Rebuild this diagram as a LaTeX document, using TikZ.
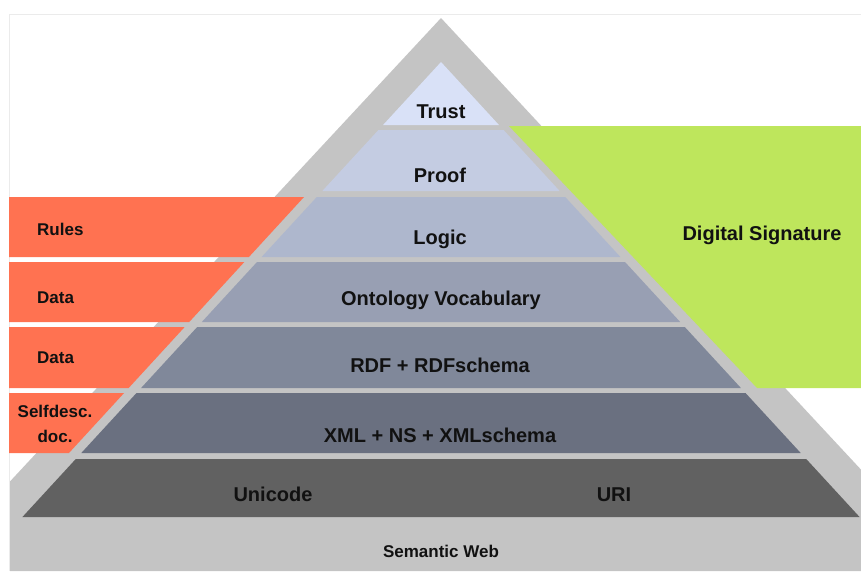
\documentclass[tikz,border=0pt]{standalone}
\usepackage{fontspec}
\setmainfont{Liberation Sans}
\usepackage{xcolor}
\usepackage{tikz}

\definecolor{framegray}{HTML}{EBEBEB}
\definecolor{outergray}{HTML}{C4C4C4}
\definecolor{boxred}{HTML}{FF7251}
\definecolor{boxgreen}{HTML}{BEE65C}
\definecolor{trustblue}{HTML}{D9E1F7}
\definecolor{proofblue}{HTML}{C4CCE2}
\definecolor{logicblue}{HTML}{AEB7CD}
\definecolor{ontoblue}{HTML}{989FB3}
\definecolor{rdfslate}{HTML}{80889A}
\definecolor{xmlslate}{HTML}{6A7080}
\definecolor{basegray}{HTML}{616161}
\definecolor{inkblack}{HTML}{111111}

\begin{document}
\begin{tikzpicture}[x=1pt, y=-1pt,
    layer/.style={font=\fontsize{20}{24}\selectfont\bfseries, text=inkblack, anchor=base, inner sep=0pt},
    side/.style={font=\fontsize{17}{25}\selectfont\bfseries, text=inkblack, inner sep=0pt}]
    \useasboundingbox (0,0) rectangle (861,571);

    % Frame
    \draw[framegray, line width=1pt] (861,14.5) -- (9.5,14.5) -- (9.5,571);

    % Outer pyramid and ground
    \begin{scope}
        \clip (10,15) rectangle (861,571);
        \fill[outergray] (441,18) -- (906,518) -- (906,571) -- (-24,571) -- (-24,518) -- cycle;
    \end{scope}

    % Left boxes
    \foreach \ya/\yb in {197/257, 262/322, 327/388, 393/453}
        \fill[boxred] (9,\ya) -- ({304-0.918*(\ya-197)},\ya) -- ({304-0.918*(\yb-197)},\yb) -- (9,\yb) -- cycle;

    % Right box
    \fill[boxgreen] (509,126) -- (861,126) -- (861,388) -- (757,388) -- cycle;

    % Layers
    \foreach \ya/\yb/\c in {62/125/trustblue, 130/191/proofblue, 197/257/logicblue, 262/322/ontoblue, 327/388/rdfslate, 393/453/xmlslate, 459/517/basegray}
        \fill[\c] ({441-0.92*(\ya-62)},\ya) -- ({441+0.92*(\ya-62)},\ya) -- ({441+0.92*(\yb-62)},\yb) -- ({441-0.92*(\yb-62)},\yb) -- cycle;

    % Labels
    \node[layer] (trust) at (441,118) {Trust};
    \node[layer] (proof) at (440,182) {Proof};
    \node[layer] (logic) at (440,244) {Logic};
    \node[layer] (onto) at (441,305) {Ontology Vocabulary};
    \node[layer] (rdf) at (440,372) {RDF + RDFschema};
    \node[layer] (xml) at (440,442) {XML + NS + XMLschema};
    \node[layer] (unicode) at (273,501) {Unicode};
    \node[layer] (uri) at (614,501) {URI};
    \node[layer] (digsig) at (762,240) {Digital Signature};

    \node[side, anchor=base west] (rules) at (37,235) {Rules};
    \node[side, anchor=base west] (data1) at (37,303) {Data};
    \node[side, anchor=base west] (data2) at (37,363) {Data};
    \node[side, align=center] (selfdesc) at (55,423.5) {Selfdesc.\\doc.};
    \node[side, anchor=base] (semweb) at (441,557) {Semantic Web};
\end{tikzpicture}
\end{document}
